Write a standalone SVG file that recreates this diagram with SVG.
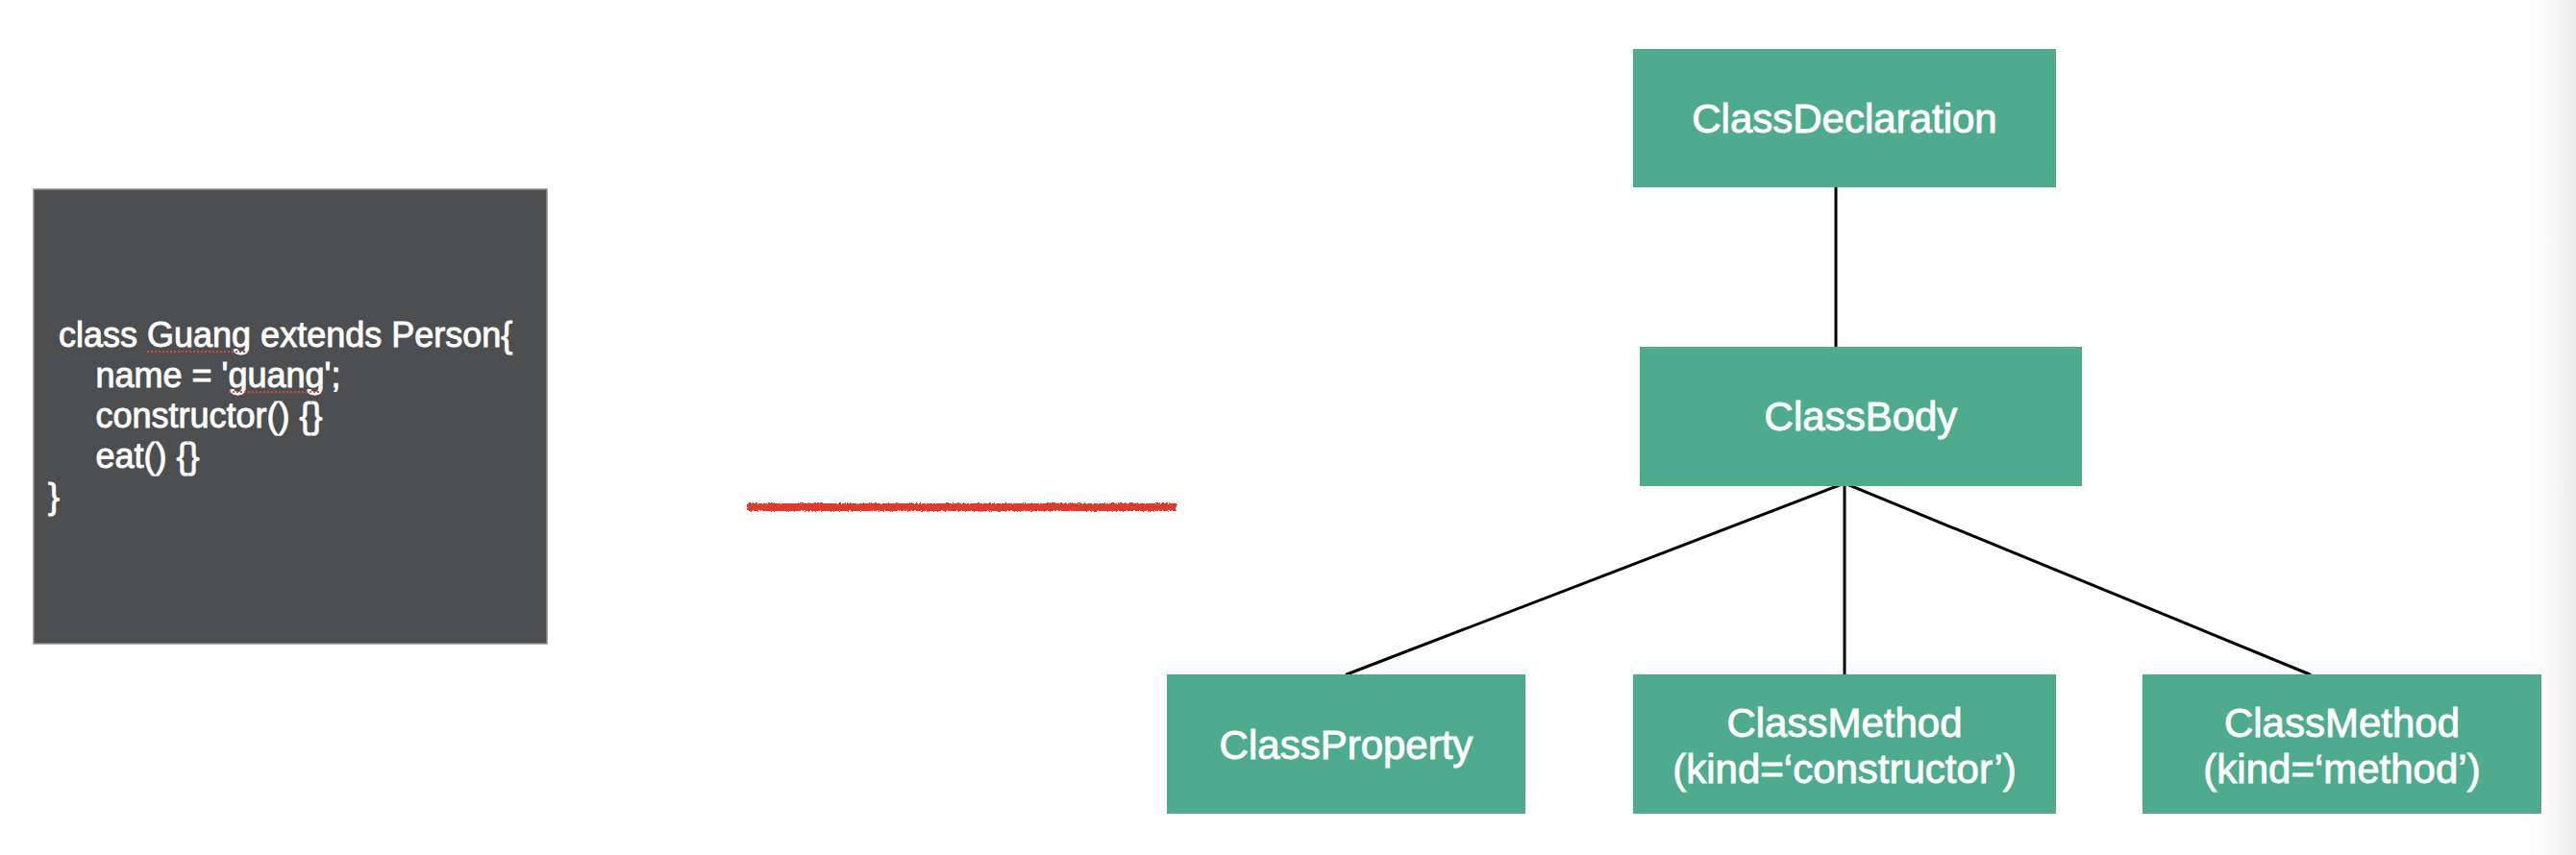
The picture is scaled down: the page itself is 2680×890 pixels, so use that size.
<svg xmlns="http://www.w3.org/2000/svg" width="2680" height="890" viewBox="0 0 2680 890">
  <defs>
    <style>
      .node rect { fill: #4fab8d; }
      .label { font-family: "Liberation Sans", Arial, Helvetica, sans-serif; font-size: 42px; fill: #ffffff; stroke: #ffffff; stroke-width: 0.9; text-anchor: middle; }
      .code { font-family: "Liberation Sans", Arial, Helvetica, sans-serif; font-size: 36px; fill: #ffffff; stroke: #ffffff; stroke-width: 0.9; }
      .edge { stroke: #000000; stroke-width: 3; fill: none; stroke-linecap: round; }
      .spell { stroke: #d9463e; stroke-width: 2; stroke-dasharray: 2 2; fill: none; }
    </style>
    <linearGradient id="edgeShade" x1="0" y1="0" x2="1" y2="0">
      <stop offset="0" stop-color="#ffffff" stop-opacity="0"/>
      <stop offset="1" stop-color="#ececec"/>
    </linearGradient>
    <filter id="pencil" filterUnits="userSpaceOnUse" x="760" y="505" width="480" height="46">
      <feTurbulence type="fractalNoise" baseFrequency="0.6" numOctaves="2" seed="3" result="noise"/>
      <feDisplacementMap in="SourceGraphic" in2="noise" scale="4" xChannelSelector="R" yChannelSelector="G"/>
    </filter>
  </defs>

  <rect x="0" y="0" width="2680" height="890" fill="#ffffff"/>
  <rect x="2615" y="0" width="65" height="890" fill="url(#edgeShade)"/>

  <g id="code-panel">
    <rect x="35" y="197" width="534" height="473" fill="#4d4e50" stroke="#8c8c8c" stroke-width="1.5"/>
    <text class="code" x="61" y="361">class Guang extends Person{</text>
    <text class="code" x="99.5" y="403">name = 'guang';</text>
    <text class="code" x="99.5" y="445">constructor() {}</text>
    <text class="code" x="99.5" y="487">eat() {}</text>
    <text class="code" x="50" y="529">}</text>
    <path class="spell" d="M153 366 H257"/>
    <path class="spell" d="M238 408 H333"/>
  </g>

  <g id="transform-mark">
    <rect x="777" y="524" width="447" height="8" fill="#de3b2c" filter="url(#pencil)"/>
  </g>

  <g id="connectors">
    <line class="edge" x1="1910" y1="195" x2="1910" y2="361"/>
    <line class="edge" x1="1919" y1="503" x2="1401" y2="702"/>
    <line class="edge" x1="1919" y1="503" x2="1919" y2="702"/>
    <line class="edge" x1="1919" y1="503" x2="2403" y2="702"/>
  </g>

  <g id="ClassDeclaration" class="node">
    <rect x="1699" y="51" width="440" height="144"/>
    <text class="label" x="1919" y="138">ClassDeclaration</text>
  </g>

  <g id="ClassBody" class="node">
    <rect x="1706" y="361" width="460" height="145"/>
    <text class="label" x="1936" y="448">ClassBody</text>
  </g>

  <g id="ClassProperty" class="node">
    <rect x="1214" y="702" width="373" height="145"/>
    <text class="label" x="1400.5" y="790">ClassProperty</text>
  </g>

  <g id="ClassMethodConstructor" class="node">
    <rect x="1699" y="702" width="440" height="145"/>
    <text class="label" x="1919" y="767">ClassMethod</text>
    <text class="label" x="1919" y="815">(kind=‘constructor’)</text>
  </g>

  <g id="ClassMethodMethod" class="node">
    <rect x="2229" y="702" width="415" height="145"/>
    <text class="label" x="2436.5" y="767">ClassMethod</text>
    <text class="label" x="2436.5" y="815">(kind=‘method’)</text>
  </g>
</svg>
